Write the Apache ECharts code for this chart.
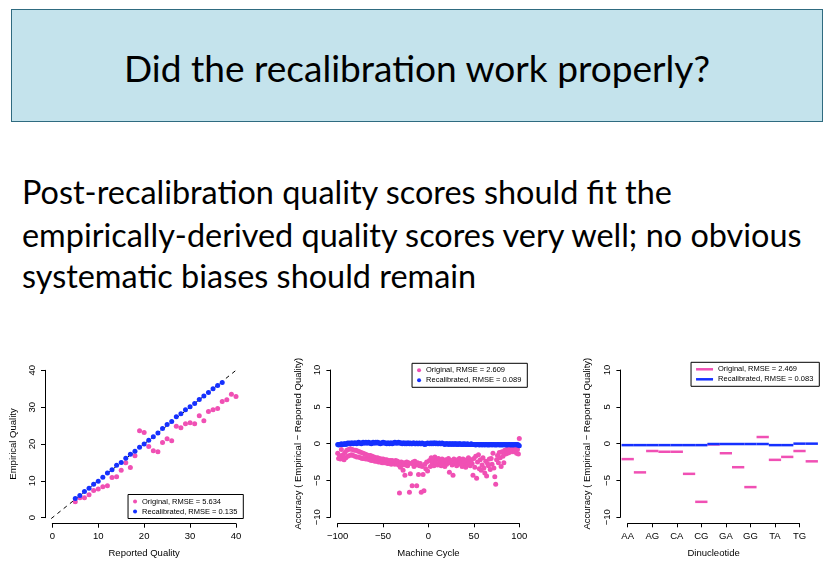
<!DOCTYPE html>
<html>
<head>
<meta charset="utf-8">
<script src="https://cdn.jsdelivr.net/npm/echarts@6/dist/echarts.min.js"></script>
<style>
  html, body { margin: 0; padding: 0; background: #fff; }
  #slide { position: relative; width: 835px; height: 581px; overflow: hidden; font-family: Lato, "Open Sans", sans-serif; }
  #titleBox { position: absolute; left: 11px; top: 9px; width: 810px; height: 111px; background: #c4e3ec; border: 1px solid #2f6b80; }
  #titleText { position: absolute; left: 0; width: 100%; top: 38px; text-align: center; line-height: 40px; color: #000; white-space: nowrap; }
  .body { position: absolute; left: 22px; line-height: 42px; color: #000; white-space: nowrap; }
  #main { position: absolute; left: 0; top: 0; width: 835px; height: 581px; }
</style>
</head>
<body>
<div id="slide">
  <div id="titleBox"><div id="titleText">Did the recalibration work properly?</div></div>
  <div class="body" id="b1" style="top:171px">Post-recalibration quality scores should fit the</div>
  <div class="body" id="b2" style="top:214px">empirically-derived quality scores very well; no obvious</div>
  <div class="body" id="b3" style="top:255px">systematic biases should remain</div>
  <div id="main"></div>
</div>
<script>
// ---- data ----
// chart 1: reported vs empirical quality
var repOrig = [5,6,7,8,9,10,11,12,13,14,15,16,17,18,19,20,21,22,23,24,25,26,27,28,29,30,31,32,33,34,35,36,37,38,39,40];
var empOrig = [4.3,5.4,5.4,6.2,7.4,7.8,8.4,8.7,10.9,11.1,12.9,14.9,13.6,16.8,23.6,23.1,19.3,18.2,17.9,20.4,21.4,20.9,24.8,24.4,25.5,25.8,25.5,27.7,26.3,28.8,29.3,29.6,31.5,32.0,33.5,32.9];
var repRecal = [5,6,7,8,9,10,11,12,13,14,15,16,17,18,19,20,21,22,23,24,25,26,27,28,29,30,31,32,33,34,35,36,37];
var empRecal = [5.2,6.0,7.1,8.0,9.1,9.9,11.0,12.1,13.0,14.2,15.0,16.1,17.2,18.0,19.1,20.0,21.0,22.0,23.0,24.2,25.3,26.1,27.4,28.2,29.3,30.1,31.0,32.1,33.0,34.0,35.0,35.9,36.7];
var diagEnds = [-1.6, 41.6];

// chart 2: accuracy by machine cycle (cycles -100..-1, then 1..100)
var cycOrigNeg = [-1.3,-2.0,-1.6,-2.1,-0.8,-1.9,-1.5,-2.2,-1.2,-1.9,
  -0.9,-1.7,-0.8,-1.6,-0.7,-1.5,-0.8,-1.6,-0.9,-1.7,
  -0.9,-1.8,-1.0,-1.8,-1.1,-1.9,-1.2,-2.0,-1.3,-2.0,
  -1.4,-2.1,-1.5,-2.1,-1.6,-2.2,-1.6,-2.3,-1.7,-2.3,
  -1.8,-2.4,-1.9,-2.4,-1.9,-2.5,-2.0,-2.5,-2.1,-2.6,
  -2.1,-2.6,-2.2,-2.6,-2.2,-2.7,-2.3,-2.7,-2.3,-2.8,
  -2.3,-2.7,-2.4,-2.8,-2.3,-2.7,-2.4,-2.9,-6.7,-3.2,
  -2.5,-2.9,-3.6,-2.6,-4.3,-2.9,-2.5,-3.0,-2.6,-6.6,
  -4.1,-2.7,-5.7,-2.5,-3.1,-2.4,-2.9,-5.7,-2.6,-4.2,
  -3.0,-2.7,-6.6,-3.1,-4.2,-6.4,-2.8,-3.4,-2.5,-3.7];
var cycOrigPos = [-2.3,-3.1,-1.9,-2.7,-2.2,-3.0,-1.8,-2.6,-2.1,-2.9,
  -2.0,-2.6,-2.3,-3.0,-2.1,-2.7,-2.4,-3.1,-2.2,-2.8,
  -2.5,-2.0,-3.9,-2.6,-2.3,-2.9,-4.3,-2.1,-2.7,-2.4,
  -3.0,-2.2,-2.8,-2.0,-2.6,-2.3,-3.1,-2.1,-2.7,-2.4,
  -3.2,-2.2,-2.8,-1.9,-2.5,-3.0,-2.2,-2.7,-4.3,-2.0,
  -3.2,-1.7,-4.7,-2.5,-1.5,-3.4,-2.2,-3.6,-2.9,-1.9,
  -3.3,-4.0,-2.4,-4.4,-2.7,-3.0,-2.1,-3.5,-2.0,-2.8,
  -1.3,-3.3,-4.5,-5.5,-2.2,-1.6,-2.6,-1.2,-1.9,-3.1,
  -1.1,-1.7,-2.6,-0.9,-1.4,-0.8,-1.3,-0.7,-1.2,-0.6,
  -1.0,-0.7,-1.1,-0.5,-1.0,-0.7,-1.3,-0.8,-1.4,0.7];
var cycRecalNeg = [-0.1,-0.2,-0.1,-0.1,0.0,-0.1,-0.1,0.0,0.0,-0.1,
  0.0,0.1,0.0,0.1,0.0,0.1,0.1,0.0,0.1,0.1,
  0.1,0.0,0.1,0.2,0.1,0.1,0.0,0.1,0.2,0.1,
  0.1,0.2,0.1,0.1,0.2,0.1,0.1,0.0,0.1,0.2,
  0.1,0.1,0.2,0.1,0.2,0.1,0.1,0.0,0.1,0.1,
  0.2,0.1,0.1,0.1,0.0,0.1,0.1,0.0,0.1,0.1,
  0.0,0.1,0.1,0.2,0.1,0.1,0.1,0.2,0.1,0.1,
  0.1,0.0,0.1,0.1,0.0,0.1,0.0,0.1,0.1,0.0,
  0.1,0.0,0.0,0.1,0.1,0.0,0.0,0.1,0.0,0.0,
  0.1,0.0,0.0,0.1,0.0,0.0,-0.1,0.0,0.0,0.1];
var cycRecalPos = [0.0,0.1,0.0,0.1,0.0,0.1,0.1,0.0,0.1,0.0,
  0.0,0.1,0.0,0.0,0.1,0.0,0.0,-0.1,0.0,0.0,
  0.0,-0.1,0.0,0.0,-0.1,0.0,0.0,-0.1,0.0,0.0,
  -0.1,0.0,-0.1,0.0,0.0,-0.1,-0.1,0.0,-0.1,0.0,
  -0.1,-0.1,0.0,-0.1,-0.1,-0.1,0.0,-0.1,-0.1,-0.1,
  -0.1,-0.2,-0.1,-0.1,-0.1,-0.2,-0.1,-0.1,-0.2,-0.1,
  -0.1,-0.2,-0.1,-0.1,-0.2,-0.1,-0.2,-0.1,-0.1,-0.2,
  -0.1,-0.1,-0.2,-0.1,-0.2,-0.1,-0.1,-0.2,-0.1,-0.2,
  -0.1,-0.2,-0.1,-0.1,-0.2,-0.1,-0.2,-0.1,-0.1,-0.2,
  -0.1,-0.2,-0.1,-0.2,-0.1,-0.1,-0.2,-0.1,-0.2,-0.3];

// chart 3: accuracy by dinucleotide
var dinucs = ['AA','AC','AG','AT','CA','CC','CG','CT','GA','GC','GG','GT','TA','TC','TG','TT'];
var dinOrig = [-2.1,-3.9,-1.0,-1.1,-1.1,-4.1,-7.9,-0.1,-1.3,-3.2,-5.9,0.9,-2.2,-1.8,-1.0,-2.4];
var dinRecal = [-0.2,-0.2,-0.2,-0.2,-0.2,-0.2,-0.2,-0.05,-0.05,-0.05,-0.05,-0.05,-0.2,-0.2,0.0,0.0];

// ---- slide text sizing (Lato stands in for Calibri) ----
var ctx = document.createElement('canvas').getContext('2d');
function fitSize(text, target) {
  ctx.font = '100px Lato';
  return 100 * target / ctx.measureText(text).width;
}
var tEl = document.getElementById('titleText');
tEl.style.fontSize = fitSize(tEl.textContent, 587) + 'px';
var bodySize = fitSize(document.getElementById('b2').textContent, 783);
['b1','b2','b3'].forEach(function (id) { document.getElementById(id).style.fontSize = bodySize + 'px'; });

// ---- chart ----
var PINK = '#f050b4', BLUE = '#1530ff';
var FONT = 'Liberation Sans';
var minus = function (v) { return String(v).replace('-', '\u2212'); };

var cycles = [];
for (var c = -100; c <= 100; c++) { if (c !== 0) cycles.push(c); }
var cycOrig = cycOrigNeg.concat(cycOrigPos);
var cycRecal = cycRecalNeg.concat(cycRecalPos);

function pairs(xs, ys) { return xs.map(function (x, i) { return [x, ys[i]]; }); }

function xAx(grid, min, max, interval, name, fmt) {
  return {
    type: 'value', gridIndex: grid, min: min, max: max, interval: interval, offset: 6,
    name: name, nameLocation: 'middle', nameGap: 25,
    nameTextStyle: { color: '#000', fontSize: 9.5, fontFamily: FONT },
    axisLine: { show: true, onZero: false, lineStyle: { color: '#000', width: 1 } },
    axisTick: { show: true, inside: false, length: 4, lineStyle: { color: '#000' } },
    axisLabel: { color: '#000', fontSize: 9.5, fontFamily: FONT, margin: 8, formatter: fmt || minus, showMinLabel: true, showMaxLabel: true, hideOverlap: false },
    splitLine: { show: false }
  };
}
function yAx(grid, min, max, interval, name, gap) {
  return {
    type: 'value', gridIndex: grid, min: min, max: max, interval: interval, offset: 7.3,
    name: name, nameLocation: 'middle', nameGap: gap,
    nameTextStyle: { color: '#000', fontSize: 9.5, fontFamily: FONT },
    axisLine: { show: true, onZero: false, lineStyle: { color: '#000', width: 1 } },
    axisTick: { show: true, inside: false, length: 4, lineStyle: { color: '#000' } },
    axisLabel: { color: '#000', fontSize: 9.5, fontFamily: FONT, margin: 8, rotate: 90, formatter: minus, showMinLabel: true, showMaxLabel: true, hideOverlap: false },
    splitLine: { show: false }
  };
}
function legendBox(right, top, names, icon, w, h) {
  return {
    orient: 'vertical', right: right, top: top, selectedMode: false,
    icon: icon, itemWidth: w, itemHeight: h, itemGap: 2,
    padding: [3, 6, 3, 5], borderColor: '#000', borderWidth: 1, borderRadius: 0,
    textStyle: { color: '#000', fontSize: 7.5, fontFamily: FONT },
    data: names
  };
}
function segItem(params, api) {
  var x = api.value(0), v = api.value(1);
  var p1 = api.coord([x - 0.5, v]), p2 = api.coord([x + 0.5, v]);
  return { type: 'line', shape: { x1: p1[0], y1: p1[1], x2: p2[0], y2: p2[1] },
           style: { stroke: api.visual('color'), lineWidth: 2.5 } };
}

var chart = echarts.init(document.getElementById('main'), null, { renderer: 'canvas' });
var opt = {
  animation: false,
  backgroundColor: 'transparent',
  grid: [
    { left: 52.3, top: 370.3, width: 183.7, height: 147.4, outerBoundsMode: 'none' },
    { left: 337.7, top: 370, width: 181.6, height: 147.3, outerBoundsMode: 'none' },
    { left: 627.7, top: 370, width: 171.8, height: 147.3, outerBoundsMode: 'none' }
  ],
  xAxis: [
    xAx(0, 0, 40, 10, 'Reported Quality'),
    xAx(1, -100, 100, 50, 'Machine Cycle'),
    xAx(2, 1, 15, 2, 'Dinucleotide', function (v) { return dinucs[v - 1]; })
  ],
  yAxis: [
    yAx(0, 0, 40, 10, 'Empirical Quality', 27),
    yAx(1, -10, 10, 5, 'Accuracy ( Empirical \u2212 Reported Quality)', 27),
    yAx(2, -10, 10, 5, 'Accuracy ( Empirical \u2212 Reported Quality)', 28)
  ],
  legend: [
    legendBox(591.7, 494.5, ['Original, RMSE = 5.634', 'Recalibrated, RMSE = 0.135'], 'circle', 4, 4),
    legendBox(307.7, 363.3, ['Original, RMSE = 2.609', 'Recalibrated, RMSE = 0.089'], 'circle', 4, 4),
    legendBox(15.7, 362.3, ['Original, RMSE = 2.469', 'Recalibrated, RMSE = 0.083'], 'rect', 17, 2.5)
  ],
  series: [
    { type: 'line', name: 'diag', xAxisIndex: 0, yAxisIndex: 0, data: pairs(diagEnds, diagEnds),
      symbol: 'none', clip: false, silent: true, z: 1,
      lineStyle: { color: '#000', width: 1, type: [4, 4] } },
    { type: 'scatter', name: 'Original, RMSE = 5.634', xAxisIndex: 0, yAxisIndex: 0,
      data: pairs(repOrig, empOrig), symbolSize: 5, clip: false, itemStyle: { color: PINK, opacity: 1 } },
    { type: 'scatter', name: 'Recalibrated, RMSE = 0.135', xAxisIndex: 0, yAxisIndex: 0,
      data: pairs(repRecal, empRecal), symbolSize: 5, clip: false, itemStyle: { color: BLUE, opacity: 1 } },
    { type: 'scatter', name: 'Original, RMSE = 2.609', xAxisIndex: 1, yAxisIndex: 1,
      data: pairs(cycles, cycOrig), symbolSize: 5, clip: false, itemStyle: { color: PINK, opacity: 1 } },
    { type: 'scatter', name: 'Recalibrated, RMSE = 0.089', xAxisIndex: 1, yAxisIndex: 1,
      data: pairs(cycles, cycRecal), symbolSize: 5, clip: false, itemStyle: { color: BLUE, opacity: 1 } },
    { type: 'custom', name: 'Original, RMSE = 2.469', xAxisIndex: 2, yAxisIndex: 2,
      data: pairs(dinucs.map(function (d, i) { return i + 1; }), dinOrig), renderItem: segItem,
      clip: false, itemStyle: { color: PINK } },
    { type: 'custom', name: 'Recalibrated, RMSE = 0.083', xAxisIndex: 2, yAxisIndex: 2,
      data: pairs(dinucs.map(function (d, i) { return i + 1; }), dinRecal), renderItem: segItem,
      clip: false, itemStyle: { color: BLUE } }
  ]
};
chart.setOption(opt);
</script>
</body>
</html>
